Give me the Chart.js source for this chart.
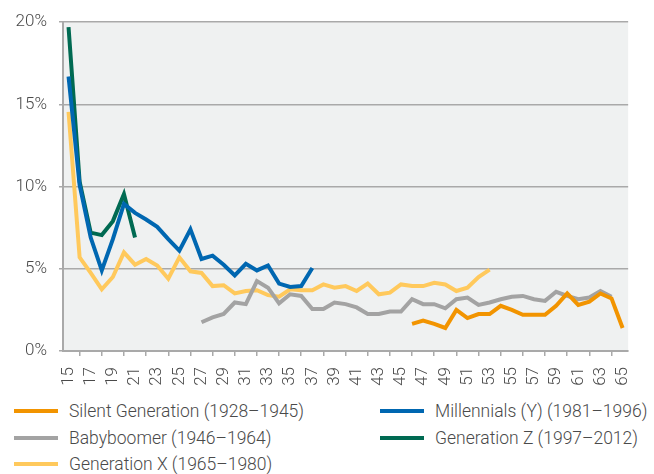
<!DOCTYPE html>
<html>
<head>
<meta charset="utf-8">
<script src="https://cdn.jsdelivr.net/npm/chart.js@4"></script>
<style>
  body { margin: 0; background: #fff; font-family: Roboto, sans-serif; font-weight: 300; }
  #wrap { position: relative; width: 654px; height: 395px; }
  #legend { position: absolute; left: 0; top: 398px; width: 654px; }
  .item { position: absolute; height: 26px; line-height: 26px; font-size: 17.5px; color: #4a4a4a; white-space: nowrap; }
  .item span.sw { position: absolute; left: 0; top: 11px; width: 44px; height: 4px; }
  .item span.tx { position: absolute; left: 55px; }
</style>
</head>
<body>
<div id="wrap"><canvas id="GenerationsLineChart" width="654" height="395"></canvas></div>
<div id="legend"></div>
<script>
// ages on the x axis
var ages = [];
for (var a = 15; a <= 65; a++) ages.push(String(a));

// share in %, each series starts at the given age
var silent_start = 46
var silent = [1.65, 1.85, 1.65, 1.4, 2.5, 2.0, 2.25, 2.25, 2.75, 2.5, 2.2, 2.2, 2.2, 2.75, 3.5, 2.8, 3.0, 3.5, 3.2, 1.4]
var millennials_start = 15
var millennials = [16.7, 10.1, 6.9, 4.9, 6.8, 8.95, 8.4, 8.0, 7.55, 6.8, 6.1, 7.4, 5.6, 5.8, 5.25, 4.6, 5.3, 4.9, 5.2, 4.1, 3.9, 3.95, 5.05]
var boomer_start = 27
var boomer = [1.75, 2.05, 2.25, 2.95, 2.85, 4.25, 3.85, 2.9, 3.45, 3.35, 2.55, 2.55, 2.95, 2.85, 2.65, 2.25, 2.25, 2.4, 2.4, 3.15, 2.85, 2.85, 2.6, 3.15, 3.25, 2.8, 2.95, 3.15, 3.3, 3.35, 3.15, 3.05, 3.6, 3.35, 3.15, 3.25, 3.65, 3.3]
var genz_start = 15
var genz = [19.7, 10.3, 7.2, 7.05, 7.9, 9.55, 6.9]
var genx_start = 15
var genx = [14.55, 5.7, 4.75, 3.75, 4.5, 6.0, 5.25, 5.6, 5.2, 4.4, 5.7, 4.85, 4.75, 3.95, 4.0, 3.5, 3.65, 3.7, 3.4, 3.3, 3.75, 3.7, 3.7, 4.05, 3.85, 3.95, 3.65, 4.1, 3.45, 3.55, 4.05, 3.95, 3.95, 4.15, 4.05, 3.65, 3.85, 4.5, 4.95]

var names = ['Silent Generation (1928\u20131945)', 'Millennials (Y) (1981\u20131996)', 'Babyboomer (1946\u20131964)', 'Generation Z (1997\u20132012)', 'Generation X (1965\u20131980)']
var colors = ['#f29400', '#0067b1', '#a3a3a3', '#006a52', '#ffc95c']

function place(start, vals) {
  var out = ages.map(function () { return null; });
  vals.forEach(function (v, i) { out[start - 15 + i] = v; });
  return out;
}

var series = [place(silent_start, silent), place(millennials_start, millennials), place(boomer_start, boomer), place(genz_start, genz), place(genx_start, genx)]

var plotBg = {
  id: 'plotBg',
  beforeDraw: function (chart) {
    var c = chart.ctx, a = chart.chartArea;
    c.save();
    c.fillStyle = '#eff1f1';
    c.fillRect(a.left, a.top, a.right - a.left, a.bottom - a.top);
    c.restore();
  }
};

var tickFont = { family: 'Roboto', size: 17, weight: '300' };
var ctx = document.getElementById('GenerationsLineChart');
var myLineChart = new Chart(ctx, {
  type: 'line',
  data: {
    labels: ages,
    datasets: series.map(function (s, i) {
      return { label: names[i], data: s, borderColor: colors[i], backgroundColor: colors[i], borderWidth: 4, pointRadius: 0, tension: 0, fill: false };
    })
  },
  options: {
    responsive: false,
    animation: false,
    layout: { padding: { top: 22, right: 0, left: 0, bottom: 0 } },
    plugins: { legend: { display: false }, tooltip: { enabled: false } },
    scales: {
      x: {
        offset: true,
        afterFit: function (s) { s.height = 44; },
        border: { color: '#a9a9a9', width: 2 },
        grid: { offset: true, drawOnChartArea: false, tickLength: 5, color: '#a9a9a9', lineWidth: 1.5 },
        ticks: {
          autoSkip: false, maxRotation: 90, minRotation: 90, padding: 11, color: '#4a4a4a', font: tickFont,
          callback: function (v, i) { return i % 2 == 0 ? ages[i] : null; }
        }
      },
      y: {
        min: 0, max: 20,
        afterFit: function (s) { s.width = 63; },
        border: { color: '#a9a9a9', width: 2 },
        grid: { color: '#a9a9a9', lineWidth: 1.5, tickLength: 4 },
        ticks: { stepSize: 5, padding: 12, color: '#4a4a4a', font: tickFont, callback: function (v) { return v + '%'; } }
      }
    }
  },
  plugins: [plotBg]
});

// two column legend like the original
var legend = document.getElementById('legend');
var spots = [[14, 0], [380, 0], [14, 26.5], [380, 26.5], [14, 53]];
names.forEach(function (n, i) {
  var d = document.createElement('div');
  d.className = 'item';
  d.style.left = spots[i][0] + 'px';
  d.style.top = spots[i][1] + 'px';
  d.innerHTML = '<span class="sw" style="background:' + colors[i] + '"></span><span class="tx">' + n + '</span>';
  legend.appendChild(d);
});
</script>
</body>
</html>
